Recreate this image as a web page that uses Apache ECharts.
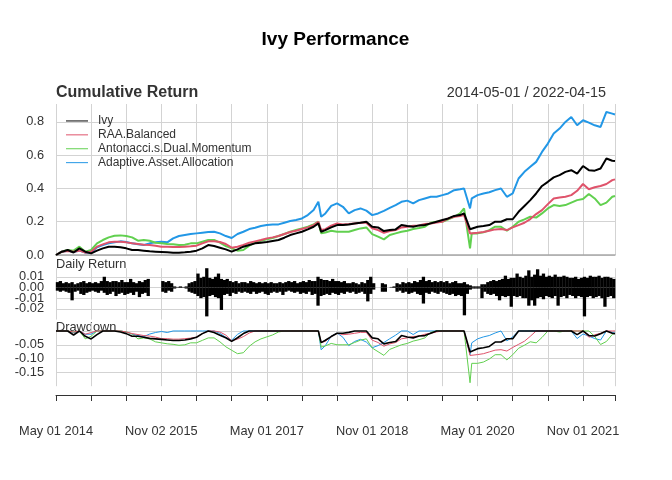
<!DOCTYPE html>
<html><head><meta charset="utf-8">
<script src="https://cdn.jsdelivr.net/npm/echarts@6/dist/echarts.min.js"></script>
<style>html,body{margin:0;padding:0;background:#fff}#c{width:672px;height:480px}</style>
</head><body><div id="c"></div>
<script>
// ---------- data ----------
const dates = [
 '2014-05-01','2014-06-01','2014-07-01','2014-08-01','2014-09-01','2014-10-01','2014-11-01','2014-12-01',
 '2015-01-01','2015-02-01','2015-03-01','2015-04-01','2015-05-01','2015-06-01','2015-07-01','2015-08-01','2015-09-01','2015-10-01','2015-11-01','2015-12-01',
 '2016-01-01','2016-02-01','2016-03-01','2016-04-01','2016-05-01','2016-06-01','2016-07-01','2016-08-01','2016-09-01','2016-10-01','2016-11-01','2016-12-01',
 '2017-01-01','2017-02-01','2017-03-01','2017-04-01','2017-05-01','2017-06-01','2017-07-01','2017-08-01','2017-09-01','2017-10-01','2017-11-01','2017-12-01',
 '2018-01-01','2018-01-26','2018-02-09','2018-03-01','2018-04-01','2018-05-01','2018-06-01','2018-07-01','2018-08-01','2018-09-01','2018-10-01','2018-11-01','2018-12-01',
 '2019-01-01','2019-02-01','2019-03-01','2019-04-01','2019-05-01','2019-06-01','2019-07-01','2019-08-01','2019-09-01','2019-10-01','2019-11-01','2019-12-01',
 '2020-01-01','2020-02-01','2020-02-21','2020-03-23','2020-04-01','2020-05-01','2020-06-01','2020-07-01','2020-08-01','2020-09-01','2020-10-01','2020-11-01','2020-12-01',
 '2021-01-01','2021-02-01','2021-03-01','2021-04-01','2021-05-01','2021-06-01','2021-07-01','2021-08-01','2021-09-01','2021-10-01','2021-11-01','2021-12-01',
 '2022-01-01','2022-02-01','2022-03-01','2022-04-01','2022-04-15'
];
const seriesNames = ['Ivy','RAA.Balanced','Antonacci.s.Dual.Momentum','Adaptive.Asset.Allocation'];
const seriesColors = ['#000000','#DF536B','#61D04F','#2297E6'];

// cumulative returns
const ivy = [0,0.02,0.03,0.015,0.04,0.02,0.01,0.026,0.04,0.05,0.05,0.046,0.04,0.03,0.03,0.026,0.022,0.02,0.018,0.016,
 0.014,0.014,0.016,0.02,0.026,0.04,0.06,0.054,0.044,0.034,0.02,0.034,0.05,0.06,0.07,0.074,0.078,0.084,0.09,0.104,
 0.12,0.13,0.14,0.154,0.17,0.19,0.14,
 0.15,0.166,0.18,0.18,0.184,0.19,0.194,0.2,0.17,0.166,0.144,0.15,0.154,0.18,0.174,0.17,0.178,0.18,0.19,0.2,0.21,0.22,0.235,0.24,
 0.25,0.155,
 0.164,0.17,0.174,0.18,0.2,0.2,0.215,0.215,0.26,0.295,0.33,0.37,0.415,0.44,0.467,0.48,0.50,0.51,0.49,0.535,0.51,0.507,0.52,0.58,0.567,
 0.565];
const raa = [0,0.02,0.024,0.02,0.026,0.014,0.02,0.05,0.064,0.076,0.08,0.08,0.076,0.07,0.066,0.062,0.06,0.056,0.05,0.05,
 0.048,0.048,0.05,0.052,0.056,0.07,0.082,0.082,0.078,0.066,0.044,0.05,0.06,0.074,0.082,0.09,0.10,0.106,0.114,0.126,
 0.138,0.146,0.156,0.166,0.18,0.2,0.15,
 0.155,0.176,0.19,0.184,0.186,0.19,0.194,0.194,0.16,0.15,0.134,0.144,0.15,0.166,0.17,0.176,0.178,0.186,0.19,0.196,0.2,0.22,0.23,0.235,
 0.24,0.13,
 0.13,0.134,0.138,0.146,0.154,0.156,0.15,0.166,0.18,0.194,0.216,0.246,0.27,0.306,0.34,0.346,0.35,0.36,0.386,0.427,0.395,0.407,0.415,0.427,0.45,
 0.455];
const antonacci = [0,0.02,0.03,0.026,0.05,0.02,0.03,0.07,0.09,0.106,0.116,0.118,0.114,0.106,0.086,0.09,0.086,0.074,0.07,0.066,
 0.064,0.06,0.062,0.07,0.07,0.08,0.09,0.09,0.074,0.054,0.04,0.026,0.03,0.056,0.074,0.086,0.094,0.102,0.114,0.126,
 0.14,0.15,0.16,0.17,0.184,0.2,0.13,
 0.135,0.146,0.14,0.14,0.14,0.15,0.16,0.166,0.126,0.11,0.094,0.12,0.13,0.14,0.146,0.156,0.162,0.17,0.194,0.2,0.2,0.214,0.23,0.25,
 0.28,0.04,
 0.13,0.13,0.136,0.15,0.17,0.17,0.146,0.17,0.2,0.214,0.23,0.225,0.25,0.28,0.3,0.295,0.3,0.315,0.33,0.337,0.367,0.34,0.3,0.315,0.35,
 0.355];
const aaa = [0,0.02,0.026,0.02,0.026,0.014,0.014,0.046,0.06,0.07,0.076,0.082,0.078,0.07,0.064,0.06,0.07,0.076,0.08,0.076,
 0.1,0.114,0.12,0.126,0.13,0.134,0.138,0.14,0.13,0.114,0.102,0.126,0.14,0.156,0.164,0.174,0.18,0.184,0.184,0.194,
 0.204,0.21,0.22,0.24,0.27,0.32,0.23,
 0.25,0.295,0.31,0.29,0.25,0.27,0.28,0.267,0.24,0.25,0.265,0.283,0.3,0.32,0.327,0.31,0.33,0.34,0.35,0.35,0.36,0.37,0.39,0.395,
 0.40,0.28,
 0.34,0.36,0.37,0.377,0.39,0.4,0.35,0.37,0.46,0.5,0.53,0.56,0.62,0.67,0.73,0.76,0.8,0.83,0.78,0.81,0.796,0.78,0.77,0.86,0.85,
 0.845];

// Ivy daily returns: highest and lowest daily return within each half-month from 2014-05-01
const dailyHigh = [
 0.005,0.006,0.004,0.005, 0.004,0.005,0.003,0.004, 0.005,0.006,0.004,0.005, 0.004,0.005,0.004,0.006,
 0.010,0.006,0.005,0.006, 0.006,0.005,0.007,0.005, 0.005,0.008,0.005,0.004, 0.006,0.005,0.007,0.008,
 0,0,0,0, 0.006,0.005,0.006,0.004, 0.001,0.0005,0.001,0.0005,0.001, 0.004,0.005,0.006,
 0.013,0.009,0.010,0.018, 0.009,0.008,0.010,0.013, 0.008,0.007,0.008,0.006, 0.005,0.006,0.004,0.005,
 0.005,0.004,0.006,0.005, 0.004,0.005,0.004,0.005, 0.004,0.005,0.004,0.004, 0.005,0.004,0.005,0.006,
 0.005,0.006,0.004,0.005, 0.006,0.005,0.007,0.006, 0.006,0.010,0.008,0.007, 0.007,0.006,0.008,0.006,
 0.006,0.005,0.006,0.004, 0.004,0.005,0.004,0.003,0.005,0.004, 0.007,0.010,0.004, 0,0, 0.004,0.003, 0,
 0.0005,0.001, 0.004,0.003,0.005,0.004, 0.005,0.004,0.006,0.005,0.007,0.010, 0.006,0.007,0.005,0.006,0.005,0.006,
 0.005,0.006,0.004,0.005,0.006,0.004, 0.004,0.005,0.003, 0.002,0.001,0.001,0.001, 0.003,0.003,
 0.005,0.006,0.007,0.006,0.007, 0.008,0.011,0.008,0.009, 0.009,0.013,0.010,0.009, 0.011,0.016,0.010,0.012,
 0.017,0.011,0.013,0.010, 0.011,0.010,0.012,0.010, 0.010,0.011,0.010,0.009, 0.009,0.010,0.008,0.009,
 0.010,0.009,0.011,0.010, 0.010,0.011,0.009,0.010, 0.010,0.009,0.008
];
const dailyLow = [
 -0.003,-0.004,-0.003,-0.004, -0.005,-0.012,-0.004,-0.003, -0.006,-0.007,-0.005,-0.004, -0.003,-0.004,-0.005,-0.003,
 -0.005,-0.007,-0.006,-0.004, -0.008,-0.006,-0.005,-0.007, -0.006,-0.005,-0.007,-0.004, -0.009,-0.006,-0.005,-0.008,
 0,0,0,0, -0.004,-0.005,-0.003,-0.004, -0.001,0,-0.0005,0,-0.001, -0.004,-0.005,-0.006,
 -0.008,-0.010,-0.009,-0.027, -0.008,-0.007,-0.009,-0.010, -0.021,-0.007,-0.006,-0.008, -0.005,-0.006,-0.004,-0.005,
 -0.004,-0.005,-0.006,-0.004, -0.006,-0.005,-0.004,-0.006, -0.007,-0.005,-0.004,-0.005, -0.004,-0.007,-0.004,-0.003,
 -0.004,-0.005,-0.004,-0.006, -0.005,-0.006,-0.004,-0.007, -0.006,-0.017,-0.008,-0.007, -0.006,-0.007,-0.005,-0.006,
 -0.007,-0.005,-0.006,-0.004, -0.005,-0.004,-0.006,-0.005,-0.004,-0.006, -0.013,-0.006,-0.002, 0,0, -0.004,-0.004, 0,
 0,-0.0005, -0.004,-0.003,-0.005,-0.004, -0.006,-0.005,-0.004,-0.006,-0.007,-0.015, -0.005,-0.006,-0.004,-0.005,-0.006,-0.004,
 -0.005,-0.006,-0.007,-0.006,-0.008,-0.007, -0.008,-0.026,-0.006, -0.002,-0.001,-0.001,-0.001, -0.010,-0.004,
 -0.006,-0.007,-0.006,-0.008,-0.012, -0.008,-0.009,-0.008,-0.018, -0.008,-0.009,-0.008,-0.010, -0.010,-0.017,-0.012,-0.017,
 -0.010,-0.009,-0.011,-0.008, -0.009,-0.010,-0.008,-0.017, -0.009,-0.008,-0.010,-0.007, -0.008,-0.010,-0.008,-0.009,
 -0.027,-0.009,-0.008,-0.010, -0.009,-0.008,-0.010,-0.018, -0.009,-0.008,-0.010
];

// x-axis tick labels (every 18 months from the start)
const tickMonths = [0,18,36,54,72,90];
const tickLabels = ['May 01 2014','Nov 02 2015','May 01 2017','Nov 01 2018','May 01 2020','Nov 01 2021'];

// ---------- helpers ----------
function monthPos(s){
  const p = s.split('-').map(Number);
  const dim = new Date(p[0], p[1], 0).getDate();
  return (p[0]-2014)*12 + (p[1]-5) + (p[2]-1)/dim;
}
function drawdown(vals){
  let peak = 1;
  return vals.map(v => { const w = 1+v; if (w > peak) peak = w; return w/peak - 1; });
}
const FONT = '"Liberation Sans", Arial, sans-serif';
const xm = dates.map(monthPos);
const xMax = xm[xm.length-1];
const allCum = [ivy, raa, antonacci, aaa];
const barPos = dailyHigh.map((_, k) => 0.25 + 0.5*k);

const GRID_COLOR = '#d3d3d3';
function xAx(gi, extra){
  return Object.assign({
    type:'value', gridIndex:gi, min:0, max:xMax, interval:6,
    axisLine:{show:false}, axisTick:{show:false}, axisLabel:{show:false},
    splitLine:{show:true, lineStyle:{color:GRID_COLOR, width:1}}
  }, extra||{});
}
const yLabel = {color:'#333', fontSize:12.8, fontFamily:FONT, margin:12};

const series = [];
// cumulative (drawn in reverse so Ivy on top)
for (let i = allCum.length-1; i >= 0; i--) {
  series.push({
    name: seriesNames[i], type:'line', xAxisIndex:0, yAxisIndex:0,
    data: allCum[i].map((v,j)=>[xm[j], v]), symbol:'none', showSymbol:false, z: 10-i,
    lineStyle:{color:seriesColors[i], width:2}, itemStyle:{color:seriesColors[i]}
  });
}
series.push({
  name:'Ivy daily high', type:'bar', xAxisIndex:1, yAxisIndex:1, barWidth:3.3, barGap:'-100%',
  data: barPos.map((p,k)=>[p, dailyHigh[k]]), itemStyle:{color:'#000'}
});
series.push({
  name:'Ivy daily low', type:'bar', xAxisIndex:1, yAxisIndex:1, barWidth:3.3, barGap:'-100%',
  data: barPos.map((p,k)=>[p, dailyLow[k]]), itemStyle:{color:'#000'}
});
for (let i = allCum.length-1; i >= 0; i--) {
  const dd = drawdown(allCum[i]);
  series.push({
    name: seriesNames[i], type:'line', xAxisIndex:2, yAxisIndex:2,
    data: dd.map((v,j)=>[xm[j], v]), symbol:'none', showSymbol:false, z: 10-i,
    lineStyle:{color:seriesColors[i], width: i===0 ? 1.6 : 1}, itemStyle:{color:seriesColors[i]}
  });
}

const near = (v, step) => Math.abs(v/step - Math.round(v/step)) < 1e-6;

const option = {
  animation:false,
  backgroundColor:'#fff',
  grid:[
    {left:56, right:57, top:104, height:151},
    {left:56, right:57, top:268.2, height:51.4},
    {left:56, right:57, top:322.7, height:63.5},
    {left:56, right:57, top:394, height:1}
  ],
  xAxis:[
    xAx(0, {axisLine:{show:true, onZero:false, lineStyle:{color:'#a8a8a8', width:1.5}}}),
    xAx(1),
    xAx(2),
    xAx(3, {
      splitLine:{show:false},
      axisLine:{show:true, lineStyle:{color:'#333', width:1}},
      axisTick:{show:true, length:6, lineStyle:{color:'#333', width:1}},
      axisLabel:{show:true, margin:30, color:'#333', fontSize:12.8, fontFamily:FONT, showMinLabel:true, showMaxLabel:true,
        formatter: v => { const i = tickMonths.indexOf(Math.round(v)); return (i>=0 && Math.abs(v-Math.round(v))<1e-6) ? tickLabels[i] : ''; }}
    })
  ],
  yAxis:[
    {type:'value', gridIndex:0, min:0, max:0.908, interval:0.2,
     axisLine:{show:false}, axisTick:{show:false},
     axisLabel: Object.assign({}, yLabel, {formatter: v => near(v,0.2) ? v.toFixed(1) : ''}),
     splitLine:{lineStyle:{color:GRID_COLOR}, showMaxLine:false}},
    {type:'value', gridIndex:1, min:-0.03, max:0.018, interval:0.01,
     axisLine:{show:false}, axisTick:{show:false},
     axisLabel: Object.assign({}, yLabel, {formatter: v => (near(v,0.01) && v > -0.025 && v < 0.015) ? v.toFixed(2) : ''}),
     splitLine:{lineStyle:{color:GRID_COLOR}, showMinLine:false, showMaxLine:false}},
    {type:'value', gridIndex:2, min:-0.2, max:0.03, interval:0.05,
     axisLine:{show:false}, axisTick:{show:false},
     axisLabel: Object.assign({}, yLabel, {formatter: v => (near(v,0.05) && v < -0.01 && v > -0.18) ? v.toFixed(2) : ''}),
     splitLine:{lineStyle:{color:GRID_COLOR}, showMinLine:false, showMaxLine:false}},
    {type:'value', gridIndex:3, min:0, max:1, show:false}
  ],
  legend:{
    data: seriesNames.map(n => ({name:n, icon:'rect'})), orient:'vertical', left:66, top:114, padding:0,
    itemWidth:22, itemHeight:1, itemGap:0,
    textStyle:{color:'#333', fontSize:12, fontFamily:FONT, lineHeight:13.9, padding:[0,0,0,5]},
    selectedMode:false
  },
  graphic:[
    {type:'text', x:335.5, y:40, style:{text:'Ivy Performance', fontWeight:'bold', fontSize:19, fontFamily:FONT, fill:'#000', align:'center', verticalAlign:'middle'}},
    {type:'text', x:56, y:93, style:{text:'Cumulative Return', fontWeight:'bold', fontSize:16, fontFamily:FONT, fill:'#333', align:'left', verticalAlign:'middle'}},
    {type:'text', x:606, y:93.5, style:{text: dates[0] + ' / ' + dates[dates.length-1], fontSize:14.4, fontFamily:FONT, fill:'#333', align:'right', verticalAlign:'middle'}},
    {type:'text', x:56, y:264.5, style:{text:'Daily Return', fontSize:12.8, fontFamily:FONT, fill:'#333', align:'left', verticalAlign:'middle'}},
    {type:'text', x:56, y:327.5, style:{text:'Drawdown', fontSize:12.8, fontFamily:FONT, fill:'#333', align:'left', verticalAlign:'middle'}}
  ],
  series: series
};
const chart = echarts.init(document.getElementById('c'), null, {renderer:'canvas'});
chart.setOption(option);
</script>
</body></html>
